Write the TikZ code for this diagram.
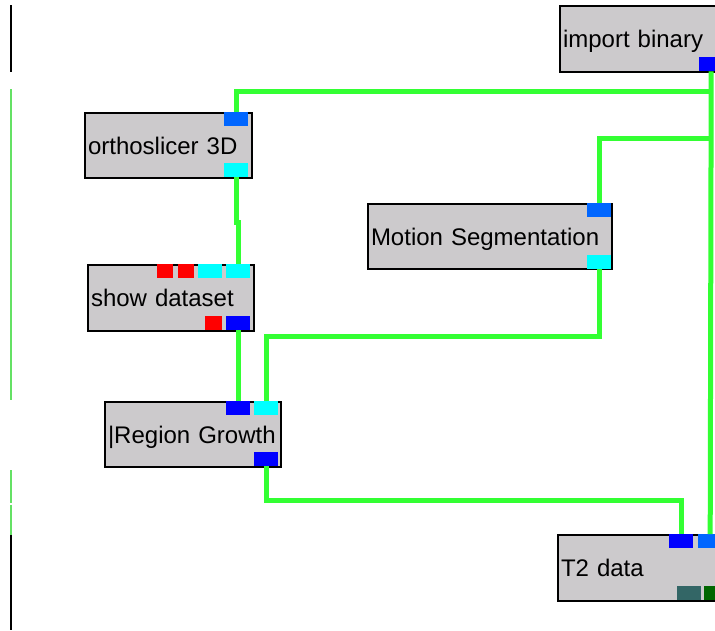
\documentclass[tikz,border=0pt]{standalone}
\usepackage{fontspec}
\setmainfont{Liberation Sans}
\definecolor{boxgray}{RGB}{204,202,204}
\definecolor{wiregreen}{RGB}{51,255,51}
\definecolor{edgegreen}{RGB}{100,225,100}
\definecolor{portblue}{RGB}{0,0,255}
\definecolor{portsky}{RGB}{0,102,255}
\definecolor{portcyan}{RGB}{0,255,255}
\definecolor{portred}{RGB}{255,0,0}
\definecolor{portteal}{RGB}{51,102,102}
\definecolor{portgreen}{RGB}{0,102,0}

\begin{document}
\begin{tikzpicture}[x=1pt,y=-1pt,
  module/.style={draw=black,line width=2pt,fill=boxgray,anchor=north west,inner xsep=3pt,inner ysep=0pt,text depth=0pt,align=left,font=\fontsize{24}{28}\selectfont},
  port/.style={anchor=north west,inner sep=0pt,minimum width=24pt,minimum height=14pt},
  wire/.style={draw=wiregreen,line width=5pt}]
                \useasboundingbox (0,0) rectangle (715,630);
                \clip (0,0) rectangle (715,630);
                \draw[black,line width=1.5pt] (11,5) -- (11,72);
                \draw[edgegreen,line width=1.5pt] (11,89) -- (11,400) (11,470) -- (11,503) (11,505) -- (11,535);
                \draw[black,line width=1.5pt] (11,535) -- (11,630);
                \node[module,text width=161pt,minimum height=66pt](import)at(559, 5){import binary};
                \node[module,text width=161pt,minimum height=65pt](ortho)at(84, 112){orthoslicer 3D};
                \node[module,text width=238pt,minimum height=65pt](motion)at(367, 203){Motion Segmentation};
                \node[module,text width=160pt,minimum height=66pt](show)at(87, 264){show dataset};
                \node[module,text width=170pt,minimum height=65pt](region)at(104, 401){|Region Growth};
                \node[module,text width=161pt,minimum height=66pt](t2)at(557, 534){T2 data};
                \node[port,fill=portblue](import-out)at(699, 57){};
                \node[port,fill=portsky](ortho-in)at(224, 112){};
                \node[port,fill=portcyan](ortho-out)at(224, 163){};
                \node[port,fill=portsky](motion-in)at(587, 203){};
                \node[port,fill=portcyan](motion-out)at(587, 255){};
                \node[port,fill=portred,minimum width=16pt](show-a)at(157, 264){};
                \node[port,fill=portred,minimum width=16pt](show-b)at(178, 264){};
                \node[port,fill=portcyan](show-c)at(198, 264){};
                \node[port,fill=portcyan](show-d)at(226, 264){};
                \node[port,fill=portred,minimum width=17pt](show-e)at(205, 316){};
                \node[port,fill=portblue](show-f)at(226, 316){};
                \node[port,fill=portblue](region-a)at(226, 401){};
                \node[port,fill=portcyan](region-b)at(254, 401){};
                \node[port,fill=portblue](region-out)at(254, 452){};
                \node[port,fill=portblue](t2-a)at(669, 534){};
                \node[port,fill=portsky](t2-b)at(698, 534){};
                \node[port,fill=portteal](t2-c)at(677, 586){};
                \node[port,fill=portgreen](t2-d)at(704, 586){};
                \coordinate (busA) at (711, 91);
                \coordinate (busB) at (711, 138);
                \draw[wire] (import-out.south) -- (t2-b.north);
                \draw[wire] (ortho-in.north) |- (busA);
                \draw[wire] (motion-in.north) |- (busB);
                \draw[wire] (ortho-out.south) -- ++(0,45) -| (show-d.north);
                \draw[wire] (show-f.south) -- (region-a.north);
                \draw[wire] (region-b.north) -- ++(0,-65) -| (motion-out.south);
                \draw[wire] (region-out.south) -- ++(0,34) -| (t2-a.north);
            \end{tikzpicture}
\end{document}
